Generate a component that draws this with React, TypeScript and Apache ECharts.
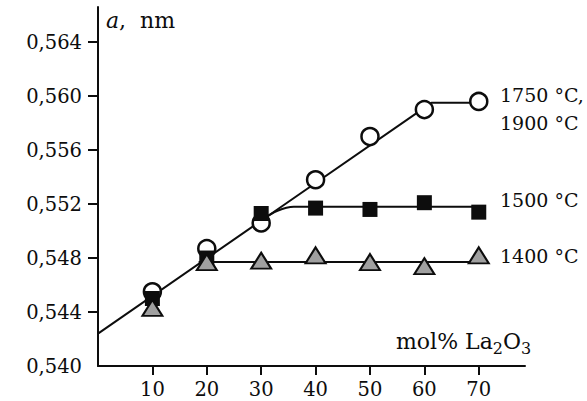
import React, { useEffect, useRef } from "react";
import * as echarts from "echarts";

const composition = [10, 20, 30, 40, 50, 60, 70];
const a1750_1900 = [0.5455, 0.5487, 0.5506, 0.5538, 0.557, 0.559, 0.5596];
const a1500 = [0.545, 0.548, 0.5513, 0.5517, 0.5516, 0.5521, 0.5514];
const a1400 = [0.5443, 0.5477, 0.5478, 0.5482, 0.5477, 0.5474, 0.5482];

const fit1750X = [0, 61.3, 70];
const fit1750Y = [0.5424, 0.5595, 0.5595];
const fit1500X = [30, 33, 36, 70.3];
const fit1500Y = [0.5508, 0.5515, 0.5518, 0.5518];
const fit1400X = [18.5, 70.3];
const fit1400Y = [0.5477, 0.5477];

const xTickValues = [10, 20, 30, 40, 50, 60, 70];
const yTickValues = [0.544, 0.548, 0.552, 0.556, 0.56, 0.564];
const yLabelValues = [0.54, 0.544, 0.548, 0.552, 0.556, 0.56, 0.564];

const FONT = "'DejaVu Serif', serif";
const INK = "#0d0d0d";
const zip = (xs: number[], ys: number[]) => xs.map((x, i) => [x, ys[i]]);

export default function App() {
  const ref = useRef<HTMLDivElement>(null);
  useEffect(() => {
    if (!ref.current) return;
    const chart = echarts.init(ref.current, null, { renderer: "svg" });
    const lineStyle = { color: INK, width: 2 };
    const label = (text: string, x: number, y: number) => ({
      type: "text",
      x,
      y,
      style: { text, font: `19px ${FONT}`, fill: INK, textVerticalAlign: "middle" },
    });
    chart.setOption({
      animation: false,
      backgroundColor: "#fff",
      grid: { left: 98, right: 62, top: 7, bottom: 35, outerBoundsMode: "none" },
      xAxis: {
        type: "value",
        min: 0,
        max: 78.5,
        splitLine: { show: false },
        axisLine: { lineStyle: { color: INK, width: 2 } },
        axisTick: { customValues: xTickValues, length: 9, lineStyle: { color: INK, width: 2 } },
        axisLabel: {
          customValues: xTickValues,
          fontFamily: FONT,
          fontSize: 19.5,
          color: INK,
          margin: 13,
        },
      },
      yAxis: {
        type: "value",
        min: 0.54,
        max: 0.5666,
        splitLine: { show: false },
        axisLine: { lineStyle: { color: INK, width: 2 } },
        axisTick: { customValues: yTickValues, length: 10, lineStyle: { color: INK, width: 2 } },
        axisLabel: {
          customValues: yLabelValues,
          fontFamily: FONT,
          fontSize: 19.5,
          color: INK,
          margin: 16,
          formatter: (v: number) => v.toFixed(3).replace(".", ","),
        },
      },
      series: [
        { type: "line", data: zip(fit1750X, fit1750Y), symbol: "none", lineStyle, z: 2 },
        { type: "line", data: zip(fit1500X, fit1500Y), symbol: "none", smooth: 0.3, lineStyle, z: 2 },
        { type: "line", data: zip(fit1400X, fit1400Y), symbol: "none", lineStyle, z: 2 },
        {
          type: "scatter",
          data: zip(composition, a1750_1900),
          symbol: "circle",
          symbolSize: 17,
          itemStyle: { color: "#fff", borderColor: INK, borderWidth: 2.5, opacity: 1 },
          z: 3,
        },
        {
          type: "scatter",
          data: zip(composition, a1500),
          symbol: "rect",
          symbolSize: 15,
          itemStyle: { color: INK, opacity: 1 },
          z: 3,
        },
        {
          type: "scatter",
          data: zip(composition, a1400),
          symbol: "triangle",
          symbolSize: [20, 16],
          itemStyle: { color: "#a0a0a0", borderColor: INK, borderWidth: 2, opacity: 1 },
          z: 3,
        },
      ],
      graphic: [
        {
          type: "text",
          x: 106,
          y: 20,
          style: {
            text: "{i|a}{n|,  nm}",
            textVerticalAlign: "middle",
            rich: {
              i: { fontFamily: FONT, fontStyle: "italic", fontSize: 22, fill: INK, lineHeight: 26 },
              n: { fontFamily: FONT, fontSize: 22, fill: INK, lineHeight: 26 },
            },
          },
        },
        label("1750 °C,", 500, 95),
        label("1900 °C", 500, 123),
        label("1500 °C", 500, 200),
        label("1400 °C", 500, 256),
        {
          type: "text",
          x: 396,
          y: 341,
          style: {
            text: "{m|mol% La}{s|2}{m|O}{s|3}",
            textVerticalAlign: "middle",
            rich: {
              m: { fontFamily: FONT, fontSize: 22, fill: INK, lineHeight: 30 },
              s: { fontFamily: FONT, fontSize: 16, fill: INK, lineHeight: 15, verticalAlign: "bottom" },
            },
          },
        },
      ],
    });
    return () => chart.dispose();
  }, []);
  return <div ref={ref} style={{ width: 587, height: 401, position: "absolute", left: 0, top: 0 }} />;
}
